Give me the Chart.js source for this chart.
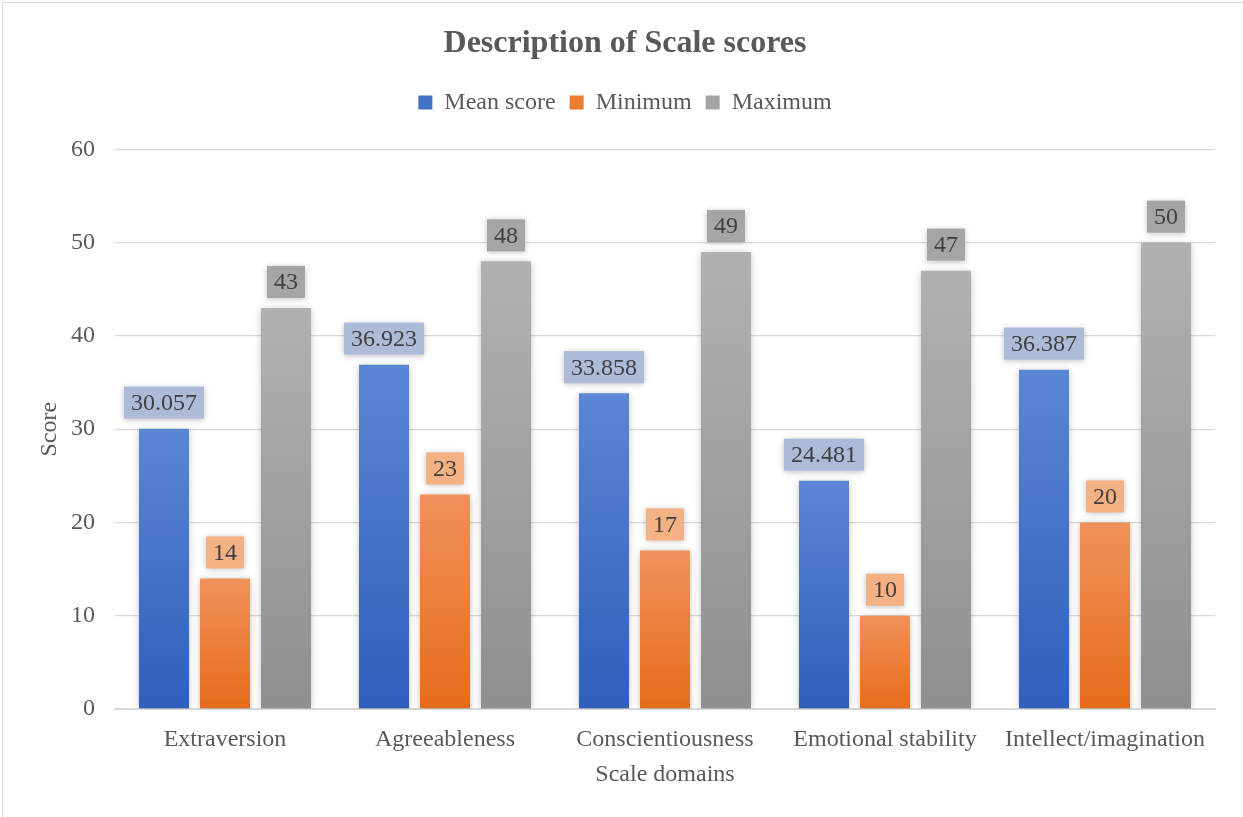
<!DOCTYPE html>
<html>
<head>
<meta charset="utf-8">
<script src="https://cdn.jsdelivr.net/npm/chart.js@4/dist/chart.umd.min.js"></script>
<style>
    html, body { margin: 0; padding: 0; background: #ffffff; }
    #wrap { position: absolute; left: 0; top: 0; width: 1243px; height: 817px; }
    #frame {
        position: absolute; left: 2px; top: 2px; right: 0; bottom: 0;
        border-left: 1px solid #d9d9d9;
        border-top: 1px solid #d9d9d9;
        pointer-events: none;
    }
</style>
</head>
<body>
<div id="wrap"><canvas id="scoreChart"></canvas></div>
<div id="frame"></div>
<script>
// Scale domains and summary scores
const domains     = ['Extraversion', 'Agreeableness', 'Conscientiousness', 'Emotional stability', 'Intellect/imagination'];
const meanScores  = [30.057, 36.923, 33.858, 24.481, 36.387];
const minScores   = [14, 23, 17, 10, 20];
const maxScores   = [43, 48, 49, 47, 50];
const yTicks      = [0, 10, 20, 30, 40, 50, 60];

const FONT = "'Liberation Serif', 'Times New Roman', serif";
const TEXT = '#595959';

// top/bottom colours of each bar gradient, plus label box fill
const palette = {
    mean: { top: '#5b86d3', bottom: '#2e5fbb', box: '#adbbd9' },
    min:  { top: '#f0915a', bottom: '#e66c1b', box: '#f4b183' },
    max:  { top: '#b1b1b1', bottom: '#8f8f8f', box: '#a5a5a5' }
};

function barGradient(colors) {
    return function(context) {
        const chart = context.chart;
        if (!chart.chartArea || context.raw === undefined) return colors.bottom;
        const y = chart.scales.y;
        const top = y.getPixelForValue(context.raw);
        const bottom = y.getPixelForValue(0);
        const g = chart.ctx.createLinearGradient(0, top, 0, bottom);
        g.addColorStop(0, colors.top);
        g.addColorStop(1, colors.bottom);
        return g;
    };
}

// soft halo around the bars
const barShadow = {
    id: 'barShadow',
    beforeDatasetsDraw(chart) {
        const ctx = chart.ctx;
        ctx.save();
        ctx.shadowColor = 'rgba(0,0,0,0.28)';
        ctx.shadowBlur = 7;
        ctx.shadowOffsetX = 0;
        ctx.shadowOffsetY = 1;
    },
    afterDatasetsDraw(chart) {
        chart.ctx.restore();
    }
};

// boxed value labels above each bar
const valueLabels = {
    id: 'valueLabels',
    afterDatasetsDraw(chart) {
        const ctx = chart.ctx;
        ctx.save();
        ctx.font = '24px ' + FONT;
        ctx.textAlign = 'center';
        ctx.textBaseline = 'middle';
        chart.data.datasets.forEach((ds, i) => {
            const meta = chart.getDatasetMeta(i);
            meta.data.forEach((bar, j) => {
                const text = String(ds.data[j]);
                const w = ctx.measureText(text).width + 14;
                const h = 32;
                const bx = bar.x - w / 2;
                const by = bar.y - 10 - h;
                ctx.save();
                ctx.shadowColor = 'rgba(0,0,0,0.25)';
                ctx.shadowBlur = 6;
                ctx.shadowOffsetY = 1;
                ctx.fillStyle = ds.labelBox;
                ctx.fillRect(bx, by, w, h);
                ctx.restore();
                ctx.fillStyle = '#404040';
                ctx.fillText(text, bar.x, by + h / 2 + 1);
            });
        });
        ctx.restore();
    }
};

// extra room below the legend row
const legendGap = {
    id: 'legendGap',
    beforeInit(chart) {
        const fit = chart.legend.fit;
        chart.legend.fit = function() {
            fit.bind(chart.legend)();
            this.height += 25;
        };
    }
};

const ctx = document.getElementById('scoreChart').getContext('2d');
new Chart(ctx, {
    type: 'bar',
    data: {
        labels: domains,
        datasets: [
            { label: 'Mean score', data: meanScores, backgroundColor: barGradient(palette.mean), labelBox: palette.mean.box, legendColor: '#4472c4' },
            { label: 'Minimum',    data: minScores,  backgroundColor: barGradient(palette.min),  labelBox: palette.min.box,  legendColor: '#ed7d31' },
            { label: 'Maximum',    data: maxScores,  backgroundColor: barGradient(palette.max),  labelBox: palette.max.box,  legendColor: '#a5a5a5' }
        ]
    },
    options: {
        responsive: true,
        maintainAspectRatio: false,
        animation: false,
        layout: { padding: { top: 0, left: 35, right: 28, bottom: 20 } },
        datasets: {
            bar: { categoryPercentage: 0.832, barPercentage: 0.82 }
        },
        plugins: {
            title: {
                display: true,
                text: 'Description of Scale scores',
                color: TEXT,
                font: { family: FONT, size: 32, weight: 'bold' },
                padding: { top: 25, bottom: 13 }
            },
            legend: {
                display: true,
                labels: {
                    color: TEXT,
                    font: { family: FONT, size: 24 },
                    boxWidth: 14,
                    boxHeight: 14,
                    padding: 14,
                    generateLabels(chart) {
                        return chart.data.datasets.map((ds, i) => ({
                            text: ds.label,
                            fillStyle: ds.legendColor,
                            strokeStyle: ds.legendColor,
                            lineWidth: 0,
                            fontColor: TEXT,
                            datasetIndex: i
                        }));
                    }
                }
            },
            tooltip: { enabled: false }
        },
        scales: {
            y: {
                min: 0,
                max: 60,
                afterBuildTicks(scale) {
                    scale.ticks = yTicks.map(v => ({ value: v }));
                },
                afterFit(scale) { scale.width = 80; },
                grid: { color: '#d9d9d9', lineWidth: 1.3, drawTicks: false },
                border: { display: false },
                ticks: {
                    color: TEXT,
                    padding: 20,
                    font: { family: FONT, size: 24 }
                },
                title: {
                    display: true,
                    text: 'Score',
                    color: TEXT,
                    font: { family: FONT, size: 24 },
                    padding: { top: 0, bottom: 0 }
                }
            },
            x: {
                afterFit(scale) { scale.height = 88; },
                grid: { display: false, drawTicks: false },
                border: { display: true, color: '#d9d9d9', width: 2 },
                ticks: {
                    color: TEXT,
                    padding: 16,
                    maxRotation: 0,
                    font: { family: FONT, size: 24 }
                },
                title: {
                    display: true,
                    text: 'Scale domains',
                    color: TEXT,
                    font: { family: FONT, size: 24 },
                    padding: { top: 0, bottom: 8 }
                }
            }
        }
    },
    plugins: [barShadow, valueLabels, legendGap]
});
</script>
</body>
</html>
